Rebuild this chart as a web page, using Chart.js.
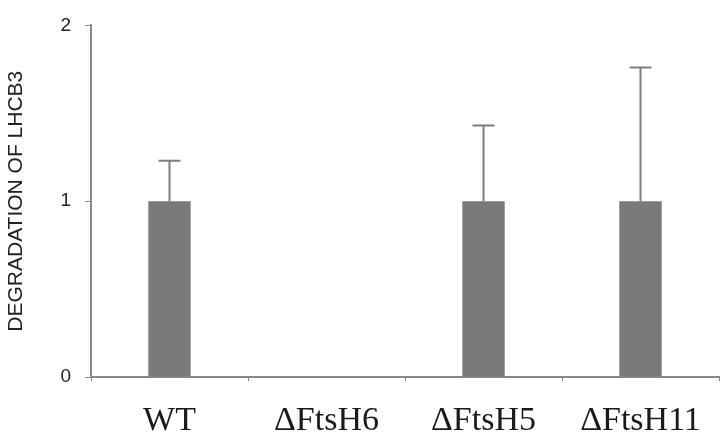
<!DOCTYPE html>
<html>
<head>
<meta charset="utf-8">
<script src="https://cdn.jsdelivr.net/npm/chart.js@4"></script>
<style>
  html, body { margin: 0; padding: 0; background: #fff; }
  #wrap { width: 723px; height: 435px; }
</style>
</head>
<body>
<div id="wrap"><canvas id="grafico"></canvas></div>
<script>
// dados
const categorias = ['WT', '\u0394FtsH6', '\u0394FtsH5', '\u0394FtsH11'];
const valores = [1, 0, 1, 1];
const errosSup = [0.23, 0, 0.43, 0.76];
const ticksY = [0, 1, 2];

// desenha só a parte de cima das barras de erro
const barrasDeErro = {
    id: 'barrasDeErro',
    afterDatasetsDraw(chart) {
        const ctx = chart.ctx;
        const meta = chart.getDatasetMeta(0);
        const y = chart.scales.y;
        ctx.save();
        ctx.strokeStyle = '#7d7d7d';
        ctx.lineWidth = 2;
        meta.data.forEach((barra, i) => {
            if (!errosSup[i]) return;
            const x = barra.x;
            const yTopo = y.getPixelForValue(valores[i] + errosSup[i]);
            ctx.beginPath();
            ctx.moveTo(x, barra.y);
            ctx.lineTo(x, yTopo);
            ctx.moveTo(x - 11, yTopo);
            ctx.lineTo(x + 11, yTopo);
            ctx.stroke();
        });
        ctx.restore();
    }
};

new Chart(document.getElementById('grafico'), {
    type: 'bar',
    data: {
        labels: categorias,
        datasets: [{
            data: valores,
            backgroundColor: '#7a7a7a',
            borderWidth: 0,
            categoryPercentage: 1,
            barPercentage: 0.27
        }]
    },
    options: {
        responsive: true,
        maintainAspectRatio: false,
        animation: false,
        layout: { padding: { top: 22, right: 4, left: 0, bottom: 0 } },
        plugins: { legend: { display: false }, tooltip: { enabled: false } },
        scales: {
            x: {
                grid: { drawOnChartArea: false, drawTicks: true, tickLength: 4, color: '#888' },
                border: { color: '#888', width: 2 },
                ticks: {
                    color: '#1a1a1a',
                    padding: 20,
                    maxRotation: 0,
                    font: { family: '"Liberation Serif", "Times New Roman", serif', size: 34 }
                },
                afterFit(s) { s.height = 58; }
            },
            y: {
                min: 0,
                max: 2,
                afterBuildTicks(s) { s.ticks = ticksY.map(v => ({ value: v })); },
                grid: { drawOnChartArea: false, drawTicks: true, tickLength: 6, color: '#888' },
                border: { color: '#888', width: 2 },
                ticks: {
                    color: '#222',
                    padding: 14,
                    font: { family: '"Liberation Sans", Arial, sans-serif', size: 19 }
                },
                title: {
                    display: true,
                    text: 'DEGRADATION OF LHCB3',
                    color: '#222',
                    padding: { top: 4, bottom: 4 },
                    font: { family: '"Liberation Sans", Arial, sans-serif', size: 21 }
                },
                afterFit(s) { s.width = 91; }
            }
        }
    },
    plugins: [barrasDeErro]
});
</script>
</body>
</html>
